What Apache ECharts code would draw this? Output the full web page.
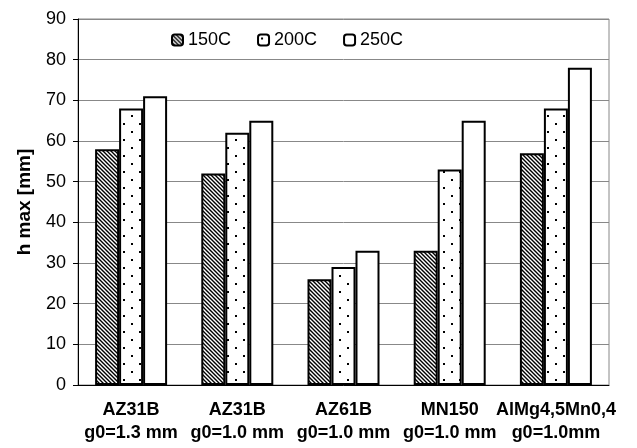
<!DOCTYPE html>
<html>
<head>
<meta charset="utf-8">
<script src="https://cdn.jsdelivr.net/npm/echarts@6/dist/echarts.min.js"></script>
<style>
    html, body { margin: 0; padding: 0; background: #fff; }
    #main { width: 637px; height: 448px; }
</style>
</head>
<body>
<div id="main"></div>
<script>
(function () {
    "use strict";

    const categories = [
        'AZ31B\ng0=1.3 mm',
        'AZ31B\ng0=1.0 mm',
        'AZ61B\ng0=1.0 mm',
        'MN150\ng0=1.0 mm',
        'AlMg4,5Mn0,4\ng0=1.0mm'
    ];
    const seriesNames = ['150C', '200C', '250C'];
    const values150 = [58, 52, 26, 33, 57];
    const values200 = [68, 62, 29, 53, 68];
    const values250 = [71, 65, 33, 65, 78];

    // hatch pattern (\\\)
    function makeHatch() {
        let c = document.createElement('canvas');
        c.width = 4; c.height = 4;
        let ctx = c.getContext('2d');
        ctx.fillStyle = '#fff';
        ctx.fillRect(0, 0, 4, 4);
        ctx.strokeStyle = '#000';
        ctx.lineWidth = 1.4;
        ctx.beginPath();
        ctx.moveTo(-1, -1); ctx.lineTo(5, 5);
        ctx.moveTo(-1, 3); ctx.lineTo(1, 5);
        ctx.moveTo(3, -1); ctx.lineTo(5, 1);
        ctx.stroke();
        return c;
    }
    // sparse dot pattern
    function makeDots() {
        let c = document.createElement('canvas');
        c.width = 16; c.height = 16;
        let ctx = c.getContext('2d');
        ctx.fillStyle = '#fff';
        ctx.fillRect(0, 0, 16, 16);
        ctx.fillStyle = '#000';
        ctx.fillRect(3, 3, 2, 2);
        ctx.fillRect(11, 11, 2, 2);
        return c;
    }

    const fills = [
        { image: makeHatch(), repeat: 'repeat' },
        { image: makeDots(), repeat: 'repeat' },
        '#fff'
    ];
    const dataList = [values150, values200, values250];

    let myChart = echarts.init(document.getElementById('main'));
    let option = {
        backgroundColor: '#fff',
        animation: false,
        textStyle: { fontFamily: 'Liberation Sans, Arial, sans-serif', color: '#000' },
        grid: {
            left: 78, right: 28, top: 19, bottom: 63,
            show: true, borderColor: '#888', borderWidth: 1
        },
        legend: {
            left: 171, top: 31,
            itemWidth: 11, itemHeight: 11, itemGap: 26, padding: 0,
            textStyle: { fontSize: 18, color: '#000', fontFamily: 'Liberation Sans' },
            data: seriesNames
        },
        xAxis: {
            type: 'category',
            data: categories,
            axisLine: { lineStyle: { color: '#000', width: 1 } },
            axisTick: { show: false },
            axisLabel: {
                color: '#000', fontSize: 18, fontWeight: 'bold',
                lineHeight: 23, margin: 14, interval: 0,
                fontFamily: 'Liberation Sans'
            }
        },
        yAxis: {
            type: 'value',
            min: 0, max: 90, interval: 10,
            name: 'h max [mm]',
            nameLocation: 'middle',
            nameGap: 44,
            nameTextStyle: { fontSize: 19, fontWeight: 'bold', color: '#000', fontFamily: 'Liberation Sans' },
            axisLine: { show: true, lineStyle: { color: '#000' } },
            axisTick: { show: true, length: 5, lineStyle: { color: '#000' } },
            axisLabel: { color: '#000', fontSize: 18, margin: 12, fontFamily: 'Liberation Sans' },
            splitLine: { lineStyle: { color: '#888', width: 1 } }
        },
        series: seriesNames.map(function (name, i) {
            return {
                name: name,
                type: 'bar',
                data: dataList[i],
                barWidth: 24,
                barGap: '0%',
                itemStyle: {
                    color: fills[i],
                    borderColor: '#000',
                    borderWidth: 2
                }
            };
        })
    };
    myChart.setOption(option);
})();
</script>
</body>
</html>
